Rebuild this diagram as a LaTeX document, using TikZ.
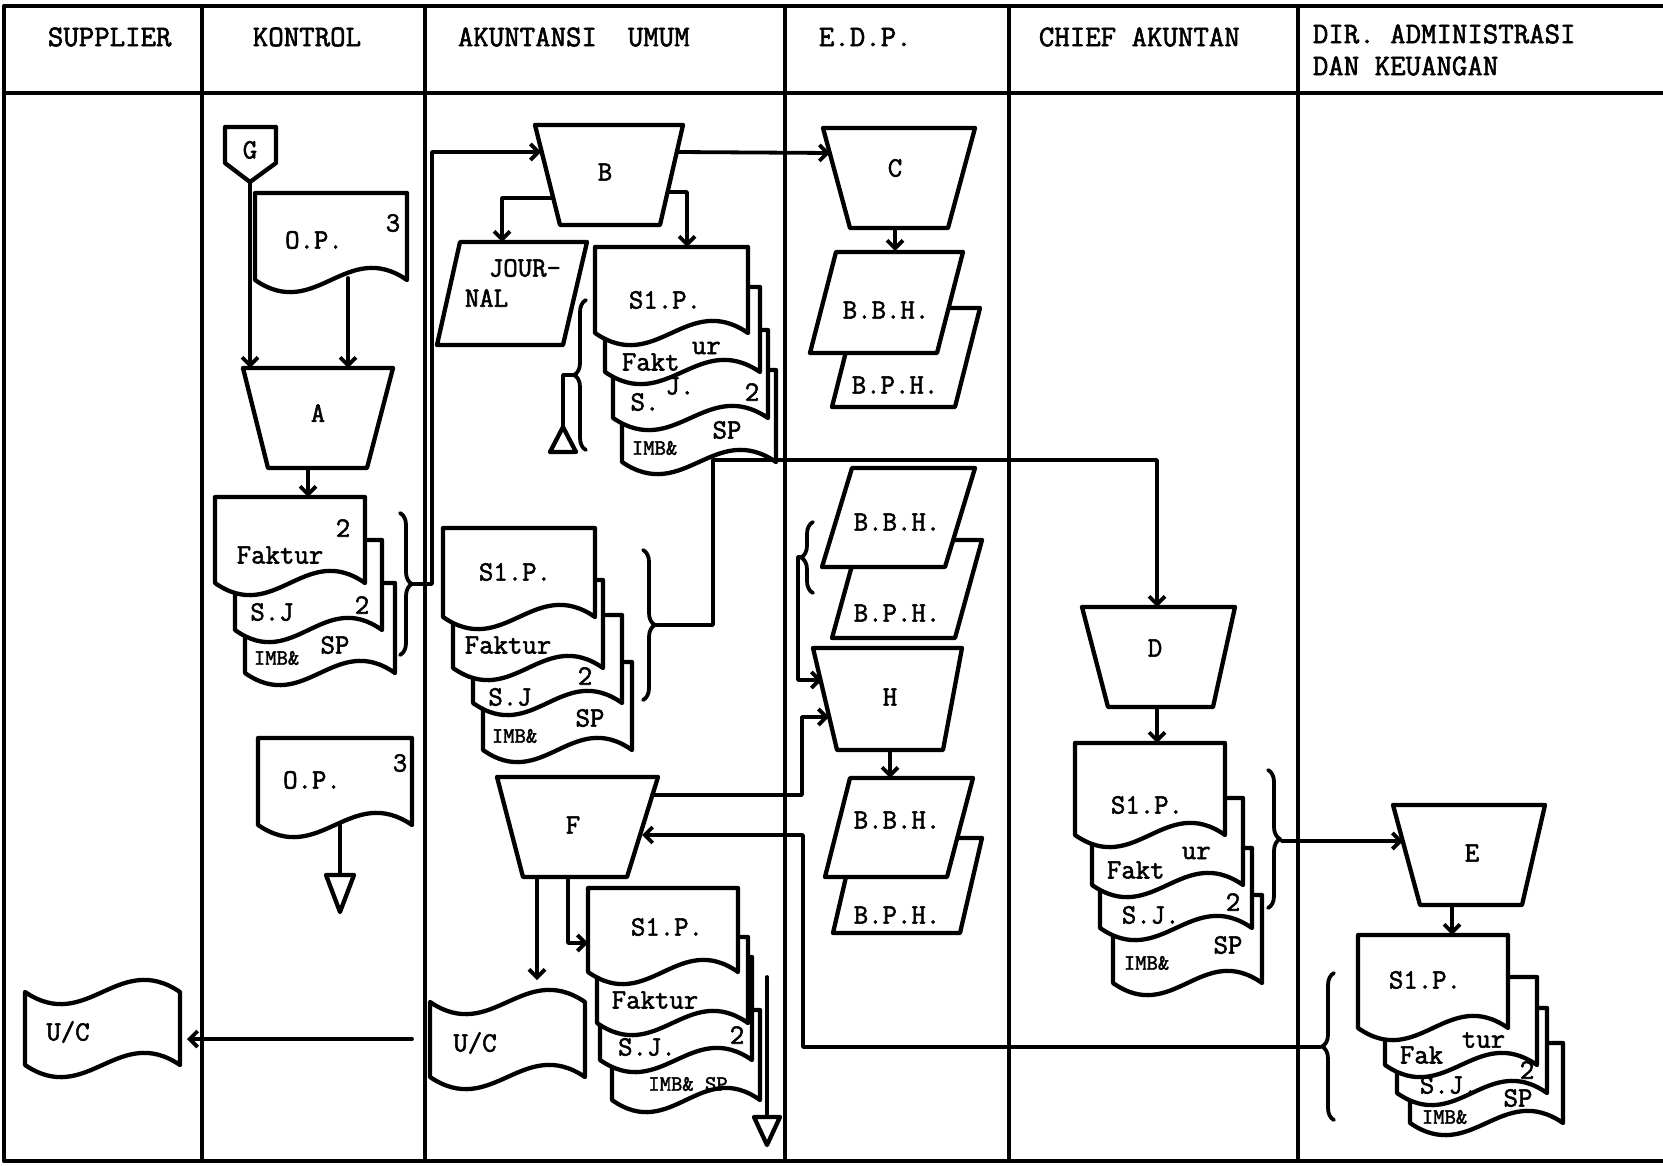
\documentclass[tikz,border=0pt]{standalone}
\usepackage{fontspec}
\newfontfamily\tw{Latin Modern Mono}[FakeBold=2]
\usetikzlibrary{arrows.meta,decorations.pathreplacing}
\newcommand\mydoc[4]{\filldraw[shp] (#1,#3) -- (#2,#3) -- (#2,#4) .. controls ({#1+0.6*(#2-#1)},{#4-42}) and ({#1+0.4*(#2-#1)},{#4+42}) .. (#1,#4) -- cycle;}
\newcommand\mytape[4]{\filldraw[shp] (#1,#3) .. controls ({#1+0.4*(#2-#1)},{#3+42}) and ({#1+0.6*(#2-#1)},{#3-42}) .. (#2,#3) -- (#2,#4) .. controls ({#1+0.6*(#2-#1)},{#4-42}) and ({#1+0.4*(#2-#1)},{#4+42}) .. (#1,#4) -- cycle;}
\begin{document}
\begin{tikzpicture}[x=1pt,y=-1pt,line width=3.8pt,line join=round,line cap=round,
 shp/.style={draw,fill=white,line width=4.3pt},
 lbl/.style={font=\tw\fontsize{28}{30}\selectfont,inner sep=0pt},
 small/.style={font=\tw\fontsize{22}{24}\selectfont,inner sep=0pt},
 hdr/.style={font=\tw\fontsize{30}{32}\selectfont,inner sep=0pt,anchor=west},
 arr/.style={-{Straight Barb[length=8pt,width=16pt]}},
 brc/.style={decorate,decoration={brace,amplitude=12pt},line width=3.8pt}]
\useasboundingbox (0,0) rectangle (1663,1166);
\fill[white] (0,0) rectangle (1663,1166);
% frame and lanes
\draw[line width=4.3pt] (1663,6) -- (4,6) -- (4,1161) -- (1663,1161);
\draw[line width=4.3pt] (4,93) -- (1663,93);
\foreach \x in {202,425,785,1009,1298} \draw[line width=3.6pt] (\x,6) -- (\x,1161);
% header
\node[hdr] (hSup) at (46,37) {SUPPLIER};
\node[hdr] (hKon) at (251,37) {KONTROL};
\node[hdr] (hAku) at (456,37) {AKUNTANSI\ \ UMUM};
\node[hdr] (hEdp) at (817,37) {E.D.P.};
\node[hdr] (hChf) at (1037,37) {CHIEF AKUNTAN};
\node[hdr] (hDir1) at (1311,34) {DIR. ADMINISTRASI};
\node[hdr] (hDir2) at (1311,66) {DAN KEUANGAN};
% ---------------- KONTROL
\filldraw[shp] (225,127) -- (276,127) -- (276,163) -- (250,182) -- (225,163) -- cycle;
\node[lbl] (G) at (250,150) {G};
\coordinate (Gs) at (250,182);
\mydoc{255}{407}{193}{280}
\node[lbl] (OP1) at (314,240) {O.P.};
\node[lbl] (OP1n) at (393,223) {3};
\coordinate (OP1s) at (348,278);
\filldraw[shp] (243,368) -- (393,368) -- (367,468) -- (268,468) -- cycle;
\node[lbl] (A) at (318,413) {A};
\coordinate (Atl) at (250,368);
\coordinate (Atr) at (348,368);
\draw[arr] (Gs) -- (Atl);
\draw[arr] (OP1s) -- (Atr);
\coordinate (As) at (308,468);
\coordinate (K1n) at (308,497);
\draw[arr] (As) -- (K1n);
\mydoc{245}{395}{583}{673}
\mydoc{235}{382}{540}{630}
\mydoc{215}{365}{497}{583}
\node[lbl] (K1) at (280,555) {Faktur};
\node[lbl] (K1n2) at (343,528) {2};
\node[lbl] (K2) at (272,612) {S.J};
\node[lbl] (K2n) at (362,605) {2};
\node[small,anchor=west] (K3) at (252,658) {IMB\&};
\node[lbl] (K3b) at (335,645) {SP};
\draw[brc] (400,513) -- (400,655);
\coordinate (Kbr) at (414,584);
\coordinate (Bw) at (541,152);
\draw[arr] (Kbr) -- (432,584) -- (432,152) -- (Bw);
\mydoc{258}{412}{738}{825}
\node[lbl] (OP2) at (312,780) {O.P.};
\node[lbl] (OP2n) at (400,763) {3};
\coordinate (OP2s) at (340,825);
\coordinate (T1) at (340,875);
\draw (OP2s) -- (T1);
\filldraw[shp] (326,875) -- (354,875) -- (340,912) -- cycle;
% ---------------- AKUNTANSI UMUM
\filldraw[shp] (535,125) -- (683,125) -- (660,225) -- (560,225) -- cycle;
\node[lbl] (B) at (605,172) {B};
\coordinate (Bwl) at (553,198);
\coordinate (Bsr) at (668,192);
\coordinate (Be) at (677,152);
\filldraw[shp] (460,242) -- (587,242) -- (563,345) -- (437,345) -- cycle;
\node[lbl,anchor=west] (Jr1) at (487,268) {JOUR-};
\node[lbl,anchor=west] (Jr2) at (463,298) {NAL};
\coordinate (Jn) at (502,242);
\draw[arr] (Bwl) -- (502,198) -- (Jn);
\mydoc{622}{776}{370}{462}
\mydoc{613}{768}{330}{418}
\mydoc{605}{760}{287}{372}
\mydoc{595}{748}{247}{333}
\coordinate (T1p) at (687,247);
\draw[arr] (Bsr) -- (687,192) -- (T1p);
\node[lbl] (T1a) at (665,300) {S1.P.};
\node[lbl,anchor=west] (T2a) at (620,362) {Fakt};
\node[lbl,anchor=west] (T2b) at (690,348) {ur};
\node[lbl] (T3a) at (645,402) {S.};
\node[lbl] (T3b) at (680,386) {J.};
\node[lbl] (T3n) at (752,392) {2};
\node[small,anchor=west] (T4a) at (630,448) {IMB\&};
\node[lbl] (T4b) at (727,430) {SP};
\draw[brc] (586,450) -- (586,300);
\coordinate (Tbr) at (573,375);
\coordinate (T2) at (563,427);
\draw (Tbr) -- (563,375) -- (T2);
\filldraw[shp] (563,427) -- (576,452) -- (550,452) -- cycle;
% middle stack
\mydoc{483}{632}{662}{750}
\mydoc{473}{622}{615}{703}
\mydoc{453}{603}{580}{668}
\mydoc{443}{595}{528}{617}
\node[lbl] (M1) at (515,572) {S1.P.};
\node[lbl] (M2) at (508,645) {Faktur};
\node[lbl] (M3) at (510,697) {S.J};
\node[lbl] (M3n) at (585,676) {2};
\node[small,anchor=west] (M4a) at (490,736) {IMB\&};
\node[lbl] (M4b) at (590,718) {SP};
\draw[brc] (643,550) -- (643,700);
\coordinate (Mbr) at (657,625);
\coordinate (Dn) at (1157,607);
\draw[arr] (Mbr) -- (713,625) -- (713,460) -- (1157,460) -- (Dn);
% F
\filldraw[shp] (497,777) -- (658,777) -- (627,877) -- (523,877) -- cycle;
\node[lbl] (F) at (573,825) {F};
\coordinate (Fe1) at (652,795);
\coordinate (Fe2) at (642,835);
\coordinate (Fs1) at (537,877);
\coordinate (Fs2) at (568,877);
\mytape{430}{585}{1002}{1077}
\node[lbl] (UC1) at (475,1043) {U/C};
\coordinate (UC1n) at (537,980);
\draw[arr] (Fs1) -- (UC1n);
\mydoc{612}{760}{1010}{1100}
\mydoc{600}{752}{957}{1060}
\mydoc{597}{748}{937}{1023}
\mydoc{588}{738}{888}{972}
\coordinate (FSw) at (588,943);
\draw[arr] (Fs2) -- (568,943) -- (FSw);
\node[lbl] (F1) at (667,927) {S1.P.};
\node[lbl] (F2) at (655,1000) {Faktur};
\node[lbl] (F3) at (647,1047) {S.J.};
\node[lbl] (F3n) at (737,1035) {2};
\node[small] (F4) at (688,1084) {IMB\& SP};
\coordinate (Fv) at (767,977);
\coordinate (T3) at (767,1117);
\draw (Fv) -- (T3);
\filldraw[shp] (754,1117) -- (780,1117) -- (767,1145) -- cycle;
% U/C to supplier
\coordinate (UCa) at (412,1039);
\coordinate (UC2e) at (187,1039);
\draw[arr] (UCa) -- (UC2e);
\mytape{25}{180}{992}{1065}
\node[lbl] (UC2) at (68,1032) {U/C};
% ---------------- E.D.P.
\filldraw[shp] (823,128) -- (975,128) -- (948,228) -- (850,228) -- cycle;
\node[lbl] (C) at (895,168) {C};
\coordinate (Cw) at (830,153);
\draw[arr] (Be) -- (Cw);
\coordinate (Cs) at (895,228);
\coordinate (P1n) at (895,251);
\draw[arr] (Cs) -- (P1n);
\filldraw[shp] (857,308) -- (980,308) -- (955,407) -- (832,407) -- cycle;
\node[lbl] (P1b) at (895,385) {B.P.H.};
\filldraw[shp] (836,252) -- (963,252) -- (937,353) -- (810,353) -- cycle;
\node[lbl] (P1a) at (886,310) {B.B.H.};
\filldraw[shp] (859,540) -- (982,540) -- (955,638) -- (832,638) -- cycle;
\node[lbl] (P2b) at (897,613) {B.P.H.};
\filldraw[shp] (852,468) -- (975,468) -- (945,567) -- (822,567) -- cycle;
\node[lbl] (P2a) at (897,522) {B.B.H.};
\draw[brc] (813,593) -- (813,522);
\coordinate (P2br) at (801,557);
\coordinate (Hw1) at (822,680);
\draw[arr] (P2br) -- (798,557) -- (798,680) -- (Hw1);
\filldraw[shp] (813,648) -- (962,648) -- (943,750) -- (837,750) -- cycle;
\node[lbl] (H) at (890,697) {H};
\coordinate (Hw2) at (829,717);
\draw[arr] (Fe1) -- (802,795) -- (802,717) -- (Hw2);
\coordinate (Hs) at (890,750);
\coordinate (P3n) at (890,778);
\draw[arr] (Hs) -- (P3n);
\filldraw[shp] (855,838) -- (982,838) -- (960,933) -- (833,933) -- cycle;
\node[lbl] (P3b) at (897,915) {B.P.H.};
\filldraw[shp] (850,778) -- (973,778) -- (947,877) -- (825,877) -- cycle;
\node[lbl] (P3a) at (897,820) {B.B.H.};
% ---------------- CHIEF AKUNTAN
\filldraw[shp] (1082,607) -- (1235,607) -- (1213,707) -- (1108,707) -- cycle;
\node[lbl] (D) at (1155,648) {D};
\coordinate (Ds) at (1157,707);
\coordinate (D1n) at (1157,743);
\draw[arr] (Ds) -- (D1n);
\mydoc{1113}{1262}{895}{983}
\mydoc{1100}{1252}{848}{928}
\mydoc{1092}{1243}{798}{885}
\mydoc{1075}{1225}{743}{835}
\node[lbl] (D1) at (1147,805) {S1.P.};
\node[lbl,anchor=west] (D2a) at (1105,870) {Fakt};
\node[lbl,anchor=west] (D2b) at (1180,853) {ur};
\node[lbl,anchor=west] (D3) at (1120,915) {S.J.};
\node[lbl] (D3n) at (1233,902) {2};
\node[small,anchor=west] (D4a) at (1122,963) {IMB\&};
\node[lbl] (D4b) at (1228,945) {SP};
\draw[brc] (1268,770) -- (1268,908);
\coordinate (Dbr) at (1282,841);
\coordinate (Ew) at (1403,841);
\draw[arr] (Dbr) -- (Ew);
% ---------------- DIR
\filldraw[shp] (1393,805) -- (1545,805) -- (1522,905) -- (1420,905) -- cycle;
\node[lbl] (E) at (1472,853) {E};
\coordinate (Es) at (1452,905);
\coordinate (E1n) at (1452,935);
\draw[arr] (Es) -- (E1n);
\mydoc{1410}{1563}{1043}{1123}
\mydoc{1397}{1547}{1008}{1093}
\mydoc{1385}{1537}{977}{1065}
\mydoc{1358}{1508}{935}{1028}
\node[lbl] (E1) at (1425,980) {S1.P.};
\node[lbl,anchor=west] (E2a) at (1398,1055) {Fak};
\node[lbl,anchor=west] (E2b) at (1460,1040) {tur};
\node[lbl,anchor=west] (E3) at (1418,1085) {S.J.};
\node[lbl] (E3n) at (1527,1070) {2};
\node[small,anchor=west] (E4a) at (1420,1117) {IMB\&};
\node[lbl] (E4b) at (1518,1098) {SP};
\draw[brc] (1334,1120) -- (1334,973);
\coordinate (Ebr) at (1320,1047);
\draw[arr] (Ebr) -- (803,1047) -- (803,835) -- (Fe2);
\end{tikzpicture}
\end{document}
